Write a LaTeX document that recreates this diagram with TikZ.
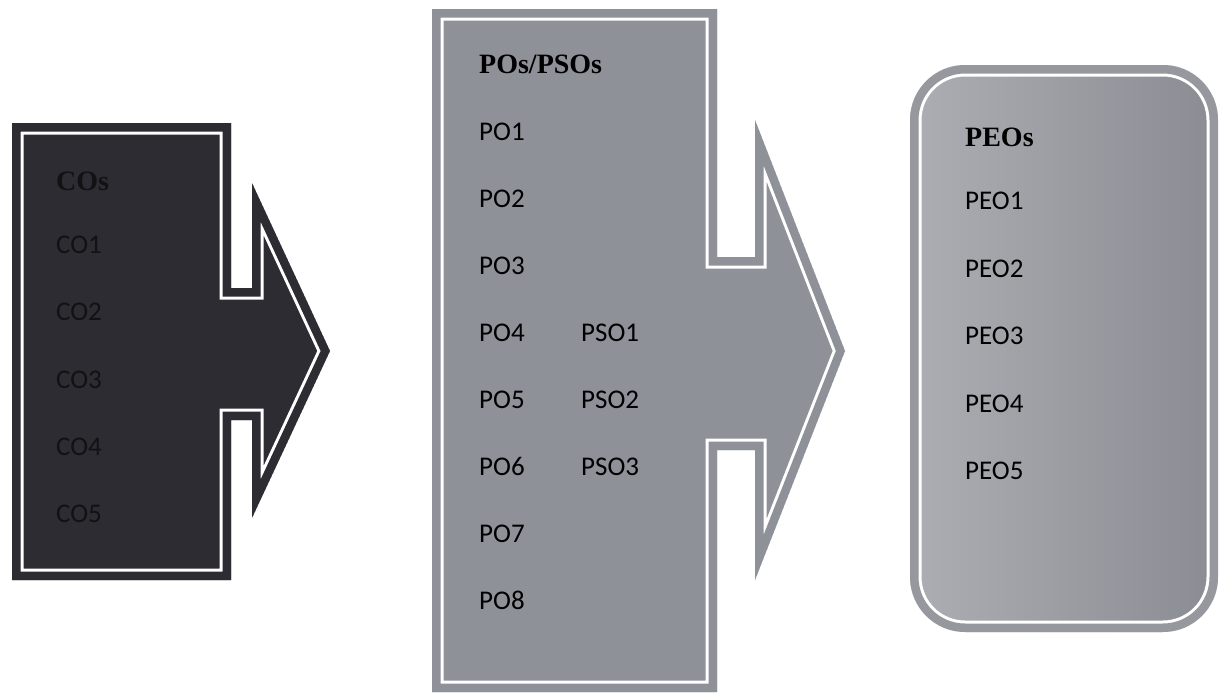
\documentclass[tikz,border=0pt]{standalone}
\usepackage{fontspec}
\setmainfont{Liberation Serif}
\newfontfamily\calfont{Carlito}
\definecolor{darkfill}{RGB}{44,44,50}
\definecolor{darktext}{RGB}{18,18,20}
\definecolor{midfill}{RGB}{143,145,153}
\definecolor{rightband}{RGB}{150,152,158}
\definecolor{rightlight}{RGB}{172,174,179}
\definecolor{rightdark}{RGB}{138,140,147}
\tikzset{
  head/.style={anchor=base west, inner sep=0pt, font=\fontsize{28}{28}\selectfont\bfseries},
  item/.style={anchor=base west, inner sep=0pt, font=\calfont\fontsize{27}{27}\selectfont},
}
\begin{document}
\begin{tikzpicture}[x=1pt,y=-1pt]
\useasboundingbox (0,0) rectangle (1223,696);
\fill[white] (0,0) rectangle (1223,696);
% left arrow shape
\def\leftpath{(12,123) -- (231,123) -- (231,288) -- (252,288) -- (252,183) -- (330,351) -- (252,518) -- (252,420) -- (231,420) -- (231,580) -- (12,580) -- cycle}
\begin{scope}
  \clip \leftpath;
  \fill[darkfill] \leftpath;
  \draw[white, line width=23pt, line join=miter] \leftpath;
  \draw[darkfill, line width=17pt, line join=miter] \leftpath;
\end{scope}
% middle arrow shape
\def\midpath{(432,9) -- (717,9) -- (717,257) -- (755,257) -- (755,120) -- (845,351) -- (755,580) -- (755,450) -- (717,450) -- (717,692) -- (432,692) -- cycle}
\begin{scope}
  \clip \midpath;
  \fill[midfill] \midpath;
  \draw[white, line width=23pt, line join=miter] \midpath;
  \draw[midfill, line width=17pt, line join=miter] \midpath;
\end{scope}
% right rounded box
\def\rightpath{[rounded corners=55pt] (910,65) rectangle (1218,632)}
\begin{scope}
  \clip \rightpath;
  \shade[left color=rightlight, right color=rightdark] \rightpath;
  \draw[white, line width=23pt] \rightpath;
  \draw[rightband, line width=17pt] \rightpath;
\end{scope}
% left texts
\node[head, text=darktext] (cos) at (56,190) {COs};
\node[item, text=darktext] (co1) at (56,253) {CO1};
\node[item, text=darktext] (co2) at (56,320) {CO2};
\node[item, text=darktext] (co3) at (56,388) {CO3};
\node[item, text=darktext] (co4) at (56,455) {CO4};
\node[item, text=darktext] (co5) at (56,522) {CO5};
% middle texts
\node[head] (pos) at (479,73) {POs/PSOs};
\node[item] (po1) at (479,140) {PO1};
\node[item] (po2) at (479,207) {PO2};
\node[item] (po3) at (479,274) {PO3};
\node[item] (po4) at (479,341) {PO4};
\node[item] (po5) at (479,408) {PO5};
\node[item] (po6) at (479,475) {PO6};
\node[item] (po7) at (479,542) {PO7};
\node[item] (po8) at (479,609) {PO8};
\node[item] (pso1) at (581,341) {PSO1};
\node[item] (pso2) at (581,408) {PSO2};
\node[item] (pso3) at (581,475) {PSO3};
% right texts
\node[head] (peos) at (965,146) {PEOs};
\node[item] (peo1) at (965,209) {PEO1};
\node[item] (peo2) at (965,277) {PEO2};
\node[item] (peo3) at (965,344) {PEO3};
\node[item] (peo4) at (965,412) {PEO4};
\node[item] (peo5) at (965,479) {PEO5};
\end{tikzpicture}
\end{document}
